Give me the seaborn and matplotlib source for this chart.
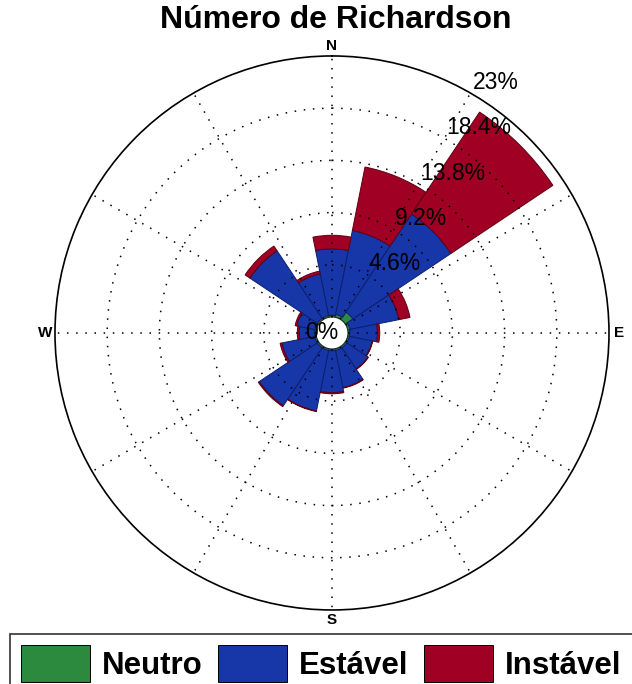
import numpy as np
import matplotlib
matplotlib.use('Agg')
import matplotlib.pyplot as plt
import seaborn as sns

# wind rose data, % of observations per direction sector
directions = ['N', 'NNE', 'NE', 'ENE', 'E', 'ESE', 'SE', 'SSE',
              'S', 'SSW', 'SW', 'WSW', 'W', 'WNW', 'NW', 'NNW']
neutro = [0.15, 0.25, 0.8, 0.2, 0.15, 0.15, 0.15, 0.15,
          0.15, 0.15, 0.15, 0.15, 0.15, 0.15, 0.15, 0.15]
estavel = [5.85, 7.55, 10.4, 4.4, 2.45, 2.05, 2.25, 3.35,
           3.7, 5.45, 6.15, 2.95, 1.35, 1.6, 7.15, 3.75]
instavel = [1.2, 5.7, 10.8, 1.0, 0.2, 0.05, 0.05, 0.05,
            0.1, 0.05, 0.1, 0.15, 0.15, 0.15, 0.5, 0.25]

series_names = ['Neutro', 'Estável', 'Instável']
ring_values = [0, 4.6, 9.2, 13.8, 18.4, 23]
ring_labels = ['0%', '4.6%', '9.2%', '13.8%', '18.4%', '23%']
compass = ['N', 'E', 'S', 'W']

sns.set_style('white')
plt.rcParams['font.family'] = ['Liberation Sans', 'DejaVu Sans']
plt.rcParams['text.color'] = 'black'
plt.rcParams['xtick.color'] = 'black'
plt.rcParams['ytick.color'] = 'black'

colors = ['#2b8a3e', '#1736a8', '#a00024']
edges = ['#145a22', '#0b1f6e', '#5e0012']

fig = plt.figure(figsize=(6.32, 6.84), dpi=100)
ax = fig.add_axes([0.087, 0.1082, 0.8766, 0.81], projection='polar')
ax.set_theta_zero_location('N')
ax.set_theta_direction(-1)

n = len(directions)
theta = np.deg2rad(np.arange(n) * 360.0 / n)
width = np.deg2rad(360.0 / n)

bottom = np.zeros(n)
for vals, name, c, ec in zip([neutro, estavel, instavel], series_names, colors, edges):
    vals = np.array(vals)
    ax.bar(theta, vals, width=width, bottom=bottom, color=c, edgecolor=ec,
           linewidth=0.7, label=name, align='center', zorder=2)
    bottom = bottom + vals

ax.set_ylim(0, ring_values[-1])
ax.set_rorigin(-1.41)
ax.set_rgrids(ring_values[1:-1], labels=[''] * (len(ring_values) - 2))
ax.set_thetagrids(np.arange(0, 360, 30), [''] * 12)
ax.set_axisbelow(False)
ax.grid(True, color='black', linewidth=1.1, linestyle=(0, (1, 5)))
ax.spines['polar'].set_linewidth(1.2)
ax.spines['polar'].set_color('black')
if 'inner' in ax.spines:
    ax.spines['inner'].set_visible(False)

# compass letters just outside the outer ring
for k, lab in enumerate(compass):
    ax.text(np.deg2rad(90 * k), 23.9, lab, ha='center', va='center',
            fontsize=11, fontweight='bold', clip_on=False)

# radial labels along the 30 deg line
for v, lab in zip(ring_values[1:], ring_labels[1:]):
    ax.text(np.deg2rad(30), v + 0.4, lab, ha='left', va='baseline',
            fontsize=16.5, zorder=5, clip_on=False)
ax.text(0.5 - 10 / 554, 0.5, ring_labels[0], transform=ax.transAxes,
        ha='center', va='center', fontsize=16.5, zorder=5)

fig.text(336 / 632, 1 - 28 / 684, 'Número de Richardson', ha='center',
         va='baseline', fontsize=23, fontweight='bold')

leg = fig.legend(loc='upper left', bbox_to_anchor=(10 / 632, 1 - 634 / 684),
                 ncol=3, frameon=True, fancybox=False, edgecolor='black',
                 prop={'size': 22.5, 'weight': 'bold'}, handlelength=2.2,
                 handleheight=1.47, handletextpad=0.39, columnspacing=0.5,
                 borderpad=0.35, borderaxespad=0)
leg.get_frame().set_linewidth(1.2)
for h in leg.legend_handles:
    h.set_edgecolor('black')

fig.savefig('out.png', dpi=100)
